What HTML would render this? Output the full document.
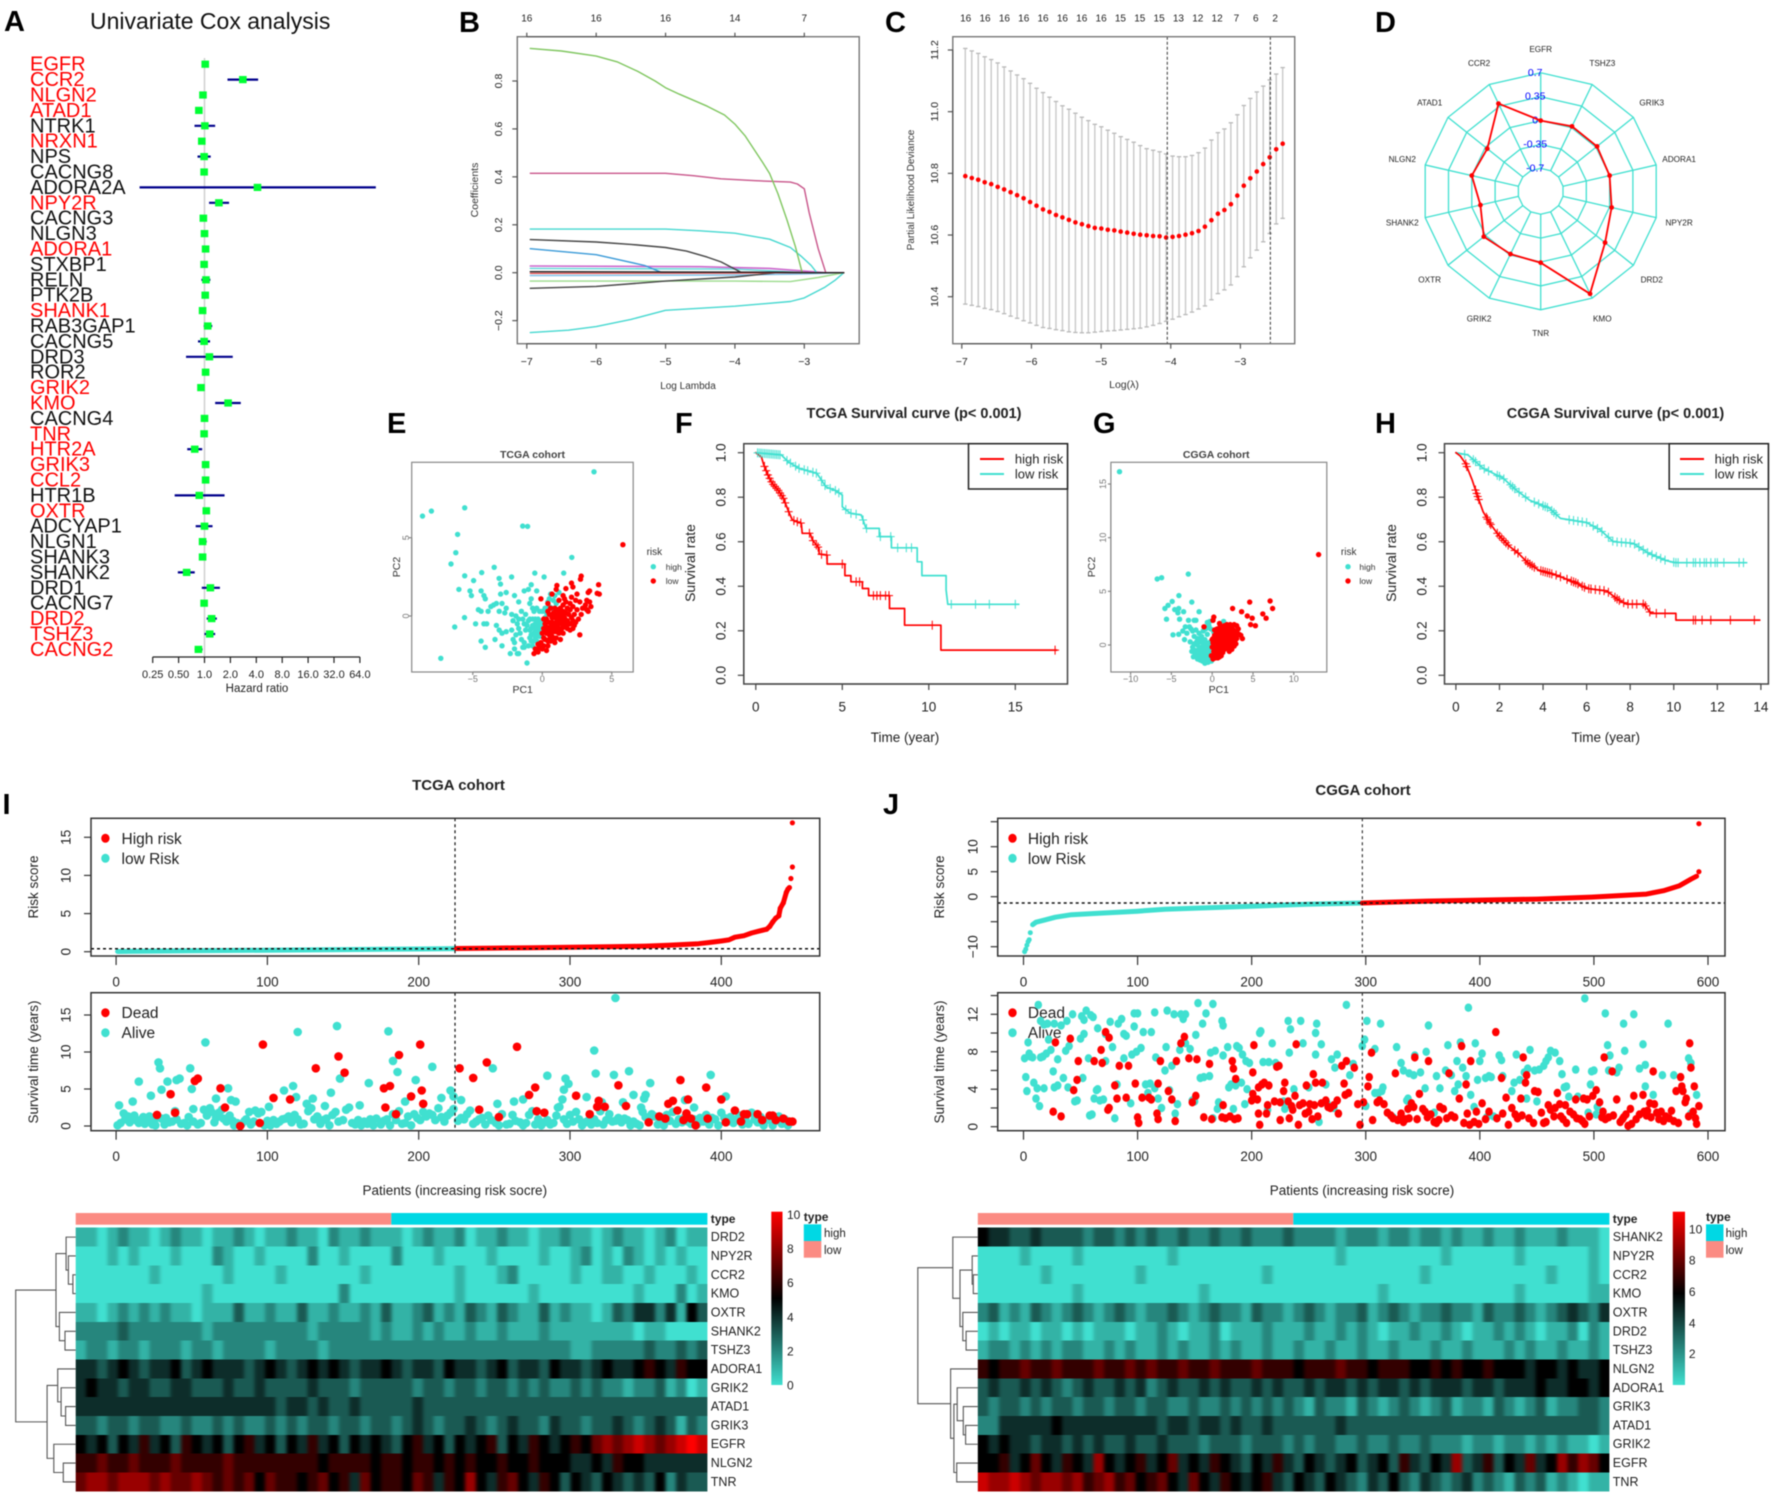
<!DOCTYPE html>
<html lang="en">
<head>
<meta charset="utf-8">
<title>Risk signature multi-panel figure</title>
<style>
html,body{margin:0;padding:0;background:#fff}
svg{display:block;font-family:"Liberation Sans",Arial,sans-serif;filter:blur(.45px)}
.plet{font-size:29px;font-weight:bold;fill:#000}
</style>
</head>
<body>
<svg id="figure" xmlns="http://www.w3.org/2000/svg" width="1772" height="1494" viewBox="0 0 1772 1494">
<defs>
<linearGradient id="heat-grad-i" x1="0" y1="1" x2="0" y2="0"><stop offset="0" stop-color="#40e0d0"/><stop offset="0.5" stop-color="#000"/><stop offset="1" stop-color="#f00"/></linearGradient>
<linearGradient id="heat-grad-j" x1="0" y1="1" x2="0" y2="0"><stop offset="0" stop-color="#40e0d0"/><stop offset="0.53" stop-color="#000"/><stop offset="1" stop-color="#f00"/></linearGradient>
<filter id="heat-soften" filterUnits="userSpaceOnUse" x="0" y="1200" width="1772" height="294" color-interpolation-filters="sRGB"><feGaussianBlur stdDeviation="1.8 0"/></filter>
<clipPath id="heat-clip-i"><rect x="75.7" y="1227" width="631.7" height="265"/></clipPath>
<clipPath id="heat-clip-j"><rect x="977.8" y="1227" width="631.6" height="265"/></clipPath>
</defs>
<rect x="0" y="0" width="1772" height="1494" fill="#fff"/>

<g>
<text class="plet" x="4" y="31">A</text>
<text class="plet" x="459" y="32">B</text>
<text class="plet" x="885" y="32">C</text>
<text class="plet" x="1375" y="32">D</text>
<text class="plet" x="387" y="433">E</text>
<text class="plet" x="675" y="433">F</text>
<text class="plet" x="1093" y="433">G</text>
<text class="plet" x="1375" y="433">H</text>
<text class="plet" x="2.5" y="814">I</text>
<text class="plet" x="883" y="814">J</text>
</g>

<g id="panel-a">
<text x="90" y="29" font-size="23" fill="#111">Univariate Cox analysis</text>
<text x="257" y="692" font-size="11.5" fill="#222" text-anchor="middle">Hazard ratio</text>
</g>

<g id="panel-b">
<text x="688" y="389" font-size="10" fill="#333" text-anchor="middle">Log Lambda</text>
<text transform="translate(478,190) rotate(-90)" font-size="10.5" fill="#333" text-anchor="middle">Coefficients</text>
</g>

<g id="panel-c">
<text x="1124" y="388" font-size="10.5" fill="#333" text-anchor="middle">Log(λ)</text>
<text transform="translate(914,190) rotate(-90)" font-size="10" fill="#333" text-anchor="middle">Partial Likelihood Deviance</text>
</g>

<g id="panel-d"></g>

<g id="panel-e">
<text x="532.5" y="458" font-size="10.5" font-weight="bold" fill="#444" text-anchor="middle">TCGA cohort</text>
<text x="522.7" y="693" font-size="10.5" fill="#333" text-anchor="middle">PC1</text>
<text transform="translate(400,567) rotate(-90)" font-size="10.5" fill="#333" text-anchor="middle">PC2</text>
<text x="646.6" y="555" font-size="10" fill="#333">risk</text>
<text x="665.8" y="570" font-size="8.5" fill="#333">high</text>
<text x="665.8" y="584" font-size="8.5" fill="#333">low</text>
</g>

<g id="panel-f">
<text x="914" y="418" font-size="14.5" font-weight="bold" fill="#222" text-anchor="middle">TCGA Survival curve (p&lt; 0.001)</text>
<text x="905" y="742" font-size="13.5" fill="#222" text-anchor="middle">Time (year)</text>
<text transform="translate(695,563) rotate(-90)" font-size="14" fill="#222" text-anchor="middle">Survival rate</text>
</g>

<g id="panel-g">
<text x="1216.2" y="458" font-size="10.5" font-weight="bold" fill="#444" text-anchor="middle">CGGA cohort</text>
<text x="1218.8" y="693" font-size="10.5" fill="#333" text-anchor="middle">PC1</text>
<text transform="translate(1095,567) rotate(-90)" font-size="10.5" fill="#333" text-anchor="middle">PC2</text>
<text x="1340.9" y="555" font-size="10" fill="#333">risk</text>
<text x="1359.4" y="570" font-size="8.5" fill="#333">high</text>
<text x="1359.4" y="584" font-size="8.5" fill="#333">low</text>
</g>

<g id="panel-h">
<text x="1615.5" y="418" font-size="14.5" font-weight="bold" fill="#222" text-anchor="middle">CGGA Survival curve (p&lt; 0.001)</text>
<text x="1605.8" y="742" font-size="13.5" fill="#222" text-anchor="middle">Time (year)</text>
<text transform="translate(1396,563) rotate(-90)" font-size="14" fill="#222" text-anchor="middle">Survival rate</text>
</g>

<g id="panel-i">
<text x="458.5" y="790" font-size="15" font-weight="bold" fill="#222" text-anchor="middle">TCGA cohort</text>
<text transform="translate(38,887) rotate(-90)" font-size="13.5" fill="#222" text-anchor="middle">Risk score</text>
<text transform="translate(38,1062) rotate(-90)" font-size="13.5" fill="#222" text-anchor="middle">Survival time (years)</text>
<text x="454.8" y="1195" font-size="13.5" fill="#222" text-anchor="middle">Patients (increasing risk socre)</text>
<text x="121.5" y="844" font-size="15.5" fill="#222">High risk</text>
<text x="121.5" y="864" font-size="15.5" fill="#222">low Risk</text>
<text x="121.5" y="1018" font-size="15.5" fill="#222">Dead</text>
<text x="121.5" y="1038" font-size="15.5" fill="#222">Alive</text>
</g>

<g id="panel-j">
<text x="1363" y="795" font-size="15" font-weight="bold" fill="#222" text-anchor="middle">CGGA cohort</text>
<text transform="translate(944,887) rotate(-90)" font-size="13.5" fill="#222" text-anchor="middle">Risk score</text>
<text transform="translate(944,1062) rotate(-90)" font-size="13.5" fill="#222" text-anchor="middle">Survival time (years)</text>
<text x="1362" y="1195" font-size="13.5" fill="#222" text-anchor="middle">Patients (increasing risk socre)</text>
<text x="1027.9" y="844" font-size="15.5" fill="#222">High risk</text>
<text x="1027.9" y="864" font-size="15.5" fill="#222">low Risk</text>
<text x="1027.9" y="1018" font-size="15.5" fill="#222">Dead</text>
<text x="1027.9" y="1038" font-size="15.5" fill="#222">Alive</text>
</g>

<g id="heat-i">
<text x="710.8" y="1223" font-size="12" font-weight="bold" fill="#222">type</text>
<text x="803.8" y="1221" font-size="12" font-weight="bold" fill="#222">type</text>
<text x="824" y="1237" font-size="11.5" fill="#222">high</text>
<text x="824" y="1254" font-size="11.5" fill="#222">low</text>
</g>

<g id="heat-j">
<text x="1612.8" y="1223" font-size="12" font-weight="bold" fill="#222">type</text>
<text x="1706" y="1221" font-size="12" font-weight="bold" fill="#222">type</text>
<text x="1725.6" y="1237" font-size="11.5" fill="#222">high</text>
<text x="1725.6" y="1254" font-size="11.5" fill="#222">low</text>
</g>
</svg>

<script>
/* ---------- Panel A data ---------- */
const forestGenes=["EGFR","CCR2","NLGN2","ATAD1","NTRK1","NRXN1","NPS","CACNG8","ADORA2A","NPY2R","CACNG3","NLGN3","ADORA1","STXBP1","RELN","PTK2B","SHANK1","RAB3GAP1","CACNG5","DRD3","ROR2","GRIK2","KMO","CACNG4","TNR","HTR2A","GRIK3","CCL2","HTR1B","OXTR","ADCYAP1","NLGN1","SHANK3","SHANK2","DRD1","CACNG7","DRD2","TSHZ3","CACNG2"];
const forestSignificant=[1,1,1,1,0,1,0,0,0,1,0,0,1,0,0,0,1,0,0,0,0,1,1,0,1,1,1,1,0,1,0,0,0,0,0,0,1,1,1];
const forestHR=[1.02,2.79,.96,.86,1.01,.93,.99,.99,4.13,1.47,.97,1,1.03,.99,1.04,1.02,.95,1.09,.99,1.14,1.03,.91,1.88,1,.99,.77,1.03,1.03,.87,1.05,1,.95,.95,.62,1.17,.99,1.21,1.15,.85];
const forestLow=[1,1.85,.94,.84,.765,.91,.83,.97,.176,1.13,.95,.98,1.01,.97,.92,1,.93,.98,.84,.61,1.01,.89,1.33,.98,.97,.63,1.01,1.01,.45,1.03,.79,.87,.93,.49,.93,.97,1.06,1,.77];
const forestHigh=[1.04,4.2,.98,.88,1.33,.95,1.18,1.01,98,1.93,.99,1.02,1.05,1.01,1.17,1.04,.97,1.23,1.16,2.13,1.05,.93,2.64,1.02,1.01,.94,1.05,1.05,1.71,1.07,1.24,1.06,.97,.77,1.51,1.01,1.39,1.33,.95];
const forestTickValues=[.25,.5,1,2,4,8,16,32,64];
const forestTickLabels=["0.25","0.50","1.0","2.0","4.0","8.0","16.0","32.0","64.0"];

/* ---------- Panel B data ---------- */
const lassoLambdaTicks=[-7,-6,-5,-4,-3];
const lassoCoefTicks=[-.2,0,.2,.4,.6,.8];
const lassoTopCounts=["16","16","16","14","7"];
const pathGreen=[[-6.95,.936],[-6.5,.925],[-6,.904],[-5.7,.88],[-5.4,.84],[-5.15,.8],[-5,.772],[-4.8,.745],[-4.6,.72],[-4.4,.695],[-4.15,.658],[-4,.62],[-3.85,.57],[-3.75,.526],[-3.6,.46],[-3.5,.414],[-3.38,.33],[-3.25,.22],[-3.13,.11],[-3.03,0],[-2.43,0]];
const pathPink=[[-6.95,.415],[-5,.415],[-4.6,.405],[-4.2,.392],[-3.7,.384],[-3.2,.378],[-3.1,.37],[-3,.35],[-2.93,.25],[-2.8,.1],[-2.69,0],[-2.43,0]];
const pathCyanUpper=[[-6.95,.182],[-5,.182],[-4.5,.175],[-4,.165],[-3.5,.14],[-3.2,.105],[-3.05,.07],[-2.9,.03],[-2.82,0],[-2.43,0]];
const pathBlackUpper=[[-6.95,.138],[-6,.128],[-5.5,.118],[-5,.105],[-4.7,.09],[-4.4,.065],[-4.2,.045],[-4,.015],[-3.9,0],[-2.43,0]];
const pathBlue=[[-6.95,.1],[-6,.075],[-5.3,.03],[-5.05,0],[-2.43,0]];
const pathMagenta=[[-6.95,.028],[-4.5,.025],[-3.5,.018],[-2.7,0],[-2.43,0]];
const pathCyanSmall=[[-6.95,.018],[-4,.015],[-3.5,.008],[-3,0],[-2.43,0]];
const pathLightBlue=[[-6.95,-.012],[-4,-.01],[-3,-.005],[-2.43,0]];
const pathGreenLower=[[-6.95,-.035],[-4,-.035],[-3.2,-.037],[-2.8,-.02],[-2.43,0]];
const pathBlackLower=[[-6.95,-.065],[-6,-.057],[-5,-.035],[-4,-.018],[-3.4,0],[-2.43,0]];
const pathCyanLower=[[-6.95,-.25],[-6.4,-.24],[-6,-.225],[-5.5,-.195],[-5,-.157],[-4,-.14],[-3.2,-.12],[-3,-.105],[-2.7,-.06],[-2.55,-.03],[-2.43,0]];
const pathBlackZero=[[-6.95,.004],[-3.3,.002],[-2.9,0],[-2.43,0]];
const pathRedZero=[[-6.95,-.003],[-4,-.002],[-3.4,0],[-2.43,0]];

/* ---------- Panel C data ---------- */
const devLambda=[-6.95,-6.857,-6.764,-6.671,-6.578,-6.485,-6.392,-6.299,-6.206,-6.113,-6.02,-5.927,-5.834,-5.741,-5.648,-5.555,-5.462,-5.369,-5.276,-5.183,-5.09,-4.997,-4.904,-4.811,-4.718,-4.625,-4.532,-4.439,-4.346,-4.253,-4.16,-4.067,-3.974,-3.881,-3.788,-3.695,-3.602,-3.509,-3.416,-3.323,-3.23,-3.137,-3.044,-2.951,-2.858,-2.765,-2.672,-2.579,-2.486,-2.393];
const devMean=[10.791,10.785,10.779,10.771,10.765,10.756,10.748,10.739,10.729,10.719,10.707,10.695,10.683,10.675,10.665,10.657,10.649,10.641,10.635,10.629,10.623,10.621,10.617,10.615,10.611,10.608,10.604,10.601,10.599,10.597,10.596,10.592,10.594,10.597,10.601,10.606,10.613,10.627,10.648,10.669,10.681,10.7,10.728,10.76,10.784,10.806,10.83,10.852,10.878,10.896];
const devUpper=[11.205,11.197,11.189,11.178,11.169,11.158,11.145,11.132,11.119,11.107,11.092,11.076,11.062,11.047,11.033,11.019,11.008,10.995,10.982,10.971,10.959,10.951,10.94,10.93,10.919,10.91,10.901,10.89,10.88,10.875,10.87,10.863,10.856,10.854,10.854,10.858,10.867,10.882,10.908,10.932,10.944,10.964,10.99,11.02,11.043,11.064,11.083,11.103,11.122,11.143];
const devLower=[10.376,10.372,10.368,10.362,10.358,10.352,10.345,10.337,10.33,10.322,10.315,10.307,10.3,10.297,10.293,10.29,10.286,10.284,10.283,10.283,10.285,10.287,10.289,10.29,10.292,10.294,10.296,10.298,10.302,10.307,10.313,10.32,10.327,10.335,10.342,10.35,10.36,10.37,10.39,10.41,10.422,10.438,10.465,10.497,10.526,10.551,10.578,10.605,10.636,10.654];
const devTickX=[-7,-6,-5,-4,-3];
const devTickY=[10.4,10.6,10.8,11,11.2];
const devTickYLabels=["10.4","10.6","10.8","11.0","11.2"];
const devTopCounts=["16","16","16","16","16","16","16","16","15","15","15","13","12","12","7","6","2"];
const devRefLines=[-4.05,-2.57];

/* ---------- Panel D data ---------- */
const radarGenes=["EGFR","TSHZ3","GRIK3","ADORA1","NPY2R","DRD2","KMO","TNR","GRIK2","OXTR","SHANK2","NLGN2","ATAD1","CCR2"];
const radarValues=[0,.02,.02,0,.03,.17,.63,.01,-.015,.03,-.13,0,-.035,.39];
const radarRings=[-.7,-.35,0,.35,.7];
const radarRingLabels=["-0.7","-0.35","0","0.35","0.7"];

/* ---------- Panel E data ---------- */
const ePcaHighRisk=[[3.72,9.21],[-8.62,6.38],[-7.98,6.7],[-5.58,6.91],[-1.41,5.74],[-1.06,5.72],[-6.09,5.21],[-6.22,4.04],[-6.57,3.32],[-3.46,3.11],[2.12,3.74],[-5.58,2.57],[-4.36,2.77],[-4.94,2.26],[-3.11,2.4],[-3.01,2.04],[-2.21,2.49],[-.54,2.74],[.13,2.49],[1.54,2.74],[-6,1.7],[-5.2,1.6],[-5.1,1.3],[-4.4,1.6],[-4.2,1.3],[-4.1,1.1],[-3,1.4],[-2.6,1.5],[-1.3,1.6],[-1,1.7],[-.8,2],[-.4,1.6],[-3.7,.6],[-3.5,.7],[-3.3,.8],[-2.9,.8],[-2.6,.5],[-4.6,.4],[-4.4,.3],[-3.9,.3],[-3.1,.3],[-2.7,.2],[-2.2,.1],[-1.9,0],[-1.7,-.2],[-5.6,-.1],[-6.3,-.7],[-4.8,-.5],[-4.2,-.5],[-4,-.5],[-3.3,-.6],[-3.1,-.9],[-2.9,-1.1],[-2.6,-1],[-4.4,-1.6],[-4.1,-2],[-3.4,-1.5],[-2.9,-1.9],[-2.1,-1.5],[-2,-1.7],[-2,-2.1],[-2.3,-2.4],[-1.8,-2.4],[-1.7,-2.4],[-1.3,-1.7],[-1.4,-2],[-1.3,-2],[-1,-1.9],[-1.1,-3],[-7.3,-2.7],[-1.7,-.8],[-1.6,-1.1],[-1.3,-.5],[-1.2,-.9],[-1.1,-.6],[-1,-.3],[-.9,-.9],[-.8,-1.2],[-.7,-.2],[-.6,-.7],[-.6,-1.1],[-.5,-1.4],[-.5,-.2],[-.4,-.8],[-.4,-1.2],[-.4,-1.6],[-.3,-.5],[-.3,-1],[-.2,-.6],[-.2,-1.3],[-.1,-.9],[0,-.7],[.1,-.4],[-.6,-1.6],[-.7,-1.9],[-.8,-1.6],[-.9,-.2],[-.6,.3],[-.7,.5],[-.4,.5],[-.2,.3],[0,.3],[.2,.5],[.3,.2],[.5,.6],[.4,.9],[.5,1.1],[.7,.5],[.8,1],[.9,1.3],[1,.8],[1.2,1.5],[.6,1.4],[.2,-.1],[-1.5,.3],[-1.2,.1],[-.9,.8],[-.8,1.1],[-1.7,.9],[-2,1.3],[-1.4,-.2],[-1.8,-.5],[-2.1,-.3],[-2.2,-.9],[-1.9,-1.2],[-1.5,-1.5],[-.9,-1.4],[-.5,-.5],[-.3,-.2],[-.1,-.4],[-.2,-1],[-.5,-1],[-.7,-.6],[-.8,-.8]];
const ePcaLowRisk=[[5.8,4.55],[1.05,1.95],[1,1.7],[1.7,1.75],[2.1,2.1],[2.2,1.85],[2.8,2.55],[2.75,2.35],[4.05,2],[3.95,1.45],[4.1,1.4],[3.4,1.6],[3.3,1.5],[.7,1.4],[1.2,1],[.4,.8],[-.1,1.1],[2.5,1.4],[3.2,1],[3.1,.7],[3.4,.9],[3.5,.6],[3.2,.4],[2.9,.5],[2.7,.9],[3.3,.3],[2.4,1],[2,.8],[1.5,1.3],[1.7,.9],[2.2,.6],[2.5,.4],[2.8,.1],[2.6,-.2],[2.3,.1],[2,.4],[1.8,.5],[1.5,.7],[1.3,.5],[1,.4],[.8,.2],[.5,.1],[.3,-.2],[.2,-.5],[.1,-.8],[0,-1.1],[.1,-1.4],[-.1,-1.7],[.1,-1.9],[-.2,-2],[-.3,-1.8],[-.5,-2.1],[-.6,-2.4],[0,-2.1],[.4,-1.6],[.5,-1.2],[.4,-.9],[.6,-.7],[.7,-.4],[.9,-.1],[1.1,.1],[1.3,.2],[1.5,.3],[1.7,.2],[1.9,.1],[2.1,-.1],[2.2,-.3],[2.4,-.4],[2,-.5],[1.8,-.3],[1.6,-.1],[1.4,-.3],[1.2,-.2],[1,-.4],[.8,-.6],[.6,-1],[.7,-1.3],[.9,-1.7],[1,-1.4],[1.2,-1.1],[1.4,-.8],[1.6,-.7],[1.8,-.8],[2,-.9],[2.7,-1.2],[2.2,-.8],[1.5,-1.1],[1.3,-1.5],[.3,-1.1],[.4,-1.9],[.2,-1.5],[.6,-1.6],[.8,-1],[1,-.8],[1.2,-.5],[1.4,-.5],[1.6,-.4],[1.9,-.5],[.5,-.4],[.7,-.1],[.9,.1],[1.1,-.1],[.3,-.7],[.5,-.8],[.2,-1],[.1,-.2],[.4,.3],[.6,.5],[1.6,1.1],[2.1,1.2],[1,-1],[1.1,-.7],[1.3,-.9],[.9,-.5],[.7,-.8],[.5,-1.5],[.8,-1.4],[1.5,-.2],[1.7,-.5],[2.3,-.6],[1.3,0],[1.5,.1],[.9,.5],[1.1,.4],[-.3,-2.3],[.3,-2.2]];
const ePcaTicksX=[-5,0,5];
const ePcaTicksY=[0,5];

/* ---------- Panel F data ---------- */
const fHighCurve=[[0,1],[.33,.98],[.44,.95],[.7,.9],[.95,.862],[1.29,.832],[1.6,.795],[1.86,.742],[2.11,.698],[2.63,.683],[2.68,.638],[3.14,.638],[3.27,.608],[3.66,.57],[3.66,.545],[4.12,.54],[4.12,.5],[5.15,.5],[5.15,.448],[5.5,.448],[5.5,.42],[6.16,.42],[6.16,.39],[6.52,.39],[6.52,.358],[7.73,.358],[7.73,.3],[8.6,.3],[8.6,.225],[10.7,.225],[10.7,.113],[17.4,.113]];
const fLowCurve=[[0,1],[1.47,.99],[1.86,.96],[2.5,.93],[3.53,.907],[4.05,.847],[4.6,.83],[5,.81],[5,.757],[5.46,.728],[6.1,.72],[6.37,.66],[7.14,.66],[7.14,.623],[7.84,.623],[7.84,.573],[9.33,.573],[9.33,.51],[9.6,.51],[9.6,.448],[11,.448],[11,.383],[11.1,.319],[15.2,.319]];
const fHighCensor=[.5,.6,.7,.8,.9,1,1.1,1.2,1.3,1.4,1.5,1.6,1.7,1.9,2.2,2.4,2.6,3.1,3.3,3.5,3.6,3.8,4.1,5,5.8,6,6.8,7,7.2,7.5,7.7,10.2,17.3];
const fLowCensor=[.1,.2,.3,.4,.5,.6,.7,.8,.9,1,1.1,1.2,1.3,1.4,1.8,2,2.3,2.5,2.8,3,3.3,3.5,3.8,4,4.3,4.6,4.8,5.2,5.5,5.8,6.2,6.4,7.2,7.8,8.2,8.7,9,11.3,12.7,13.5,15];
const fTicksX=[0,5,10,15];
const survTicksY=[0,.2,.4,.6,.8,1];
const survTickYLabels=["0.0","0.2","0.4","0.6","0.8","1.0"];

/* ---------- Panel G data ---------- */
const gPcaHighRisk=[[-11.36,16.15],[-6.74,6.15],[-6.2,6.27],[-2.93,6.61],[-4.08,4.6],[-4.9,4.05],[-5.4,3.7],[-5.8,3.4],[-4.1,3.4],[-4.2,3],[-4.6,3.3],[-3.5,3.1],[-2.5,4],[-1.6,3.1],[-5.6,2.4],[-4,2.4],[-2.9,2.3],[-2.2,2.3],[-.6,2.1],[-.3,2.2],[1.4,2.2],[-4.8,.95],[-4.1,1],[-3.6,1.3],[-3.4,.5],[-3.3,1.7],[-3.1,1.1],[-2.8,1.7],[-2.6,1.5],[-2.4,1.3],[-2.2,.8],[-2,1.4],[-1.8,.6],[-1.6,1.1],[-1.4,.3],[-1.3,.8],[-1.1,1.3],[-.9,.5],[-.8,1.5],[-.6,1],[-2.7,.3],[-2.4,-.2],[-2.2,.1],[-2,-.5],[-1.9,-.9],[-1.8,0],[-1.7,-1.2],[-1.6,-.4],[-1.5,-.8],[-1.4,-1.3],[-1.3,-.2],[-1.2,-.6],[-1.1,-1.1],[-1,-1.5],[-.9,-.3],[-.9,-.9],[-.8,-1.3],[-.7,-.1],[-.7,-.7],[-.6,-1.1],[-.6,-1.6],[-.5,.2],[-.5,-.4],[-.4,-.9],[-.4,-1.3],[-.3,-.2],[-.3,-.7],[-.2,-1.1],[-.2,.3],[-.1,-.5],[-.1,-.9],[0,-1.3],[-.1,-1.5],[-.8,.1],[-1.1,-.4],[-1.3,-.9],[-1.5,-1.4],[-1.8,-1.3],[-2.3,-1.1],[-2.5,-.6],[-1.9,.3],[-1.6,.5],[-1.3,.5],[-1,.2],[-1.2,-1.5],[-.7,-1.5],[-.5,-1.6],[-.9,-1.7],[-1.6,-.9],[-2.1,-.8],[.2,1.2],[.6,1.3],[.9,1.6],[-.2,1.5],[-.4,1.8],[-2,2.3]];
const gPcaLowRisk=[[13.04,8.42],[4.6,4],[7.1,4.1],[6.2,2.9],[7.4,3.4],[6.6,2.5],[3.6,3.1],[2.5,3.4],[.2,2.6],[.1,2.3],[-1,1.7],[.9,2],[4.3,2.7],[4.9,2.5],[4.7,1.9],[5.3,1.8],[2.2,1.9],[2.7,1.9],[3,1.8],[3.2,1.5],[3,1.2],[3.3,1],[3.5,.9],[3.7,.6],[2.8,.9],[2.6,1.4],[2.4,1.7],[2.1,1.5],[1.8,1.9],[1.5,1.8],[1.2,1.6],[1,1.3],[.8,1.4],[.5,1.1],[.3,.9],[.1,.6],[.1,.2],[.2,-.2],[.2,-.6],[.3,-1],[.1,-1.3],[.4,-1.2],[.5,-.8],[.6,-.4],[.7,0],[.8,.4],[.9,.8],[1.1,1],[1.3,1.2],[1.5,1.3],[1.7,1.5],[1.9,1.2],[2.2,1.1],[2.4,.8],[2.6,.7],[2.8,.4],[2.9,.1],[2.7,-.1],[2.5,.2],[2.3,.4],[2.1,.6],[1.9,.7],[1.7,.9],[1.5,.8],[1.3,.6],[1.1,.4],[.9,.1],[.7,-.4],[.6,-.8],[.5,-1.1],[.8,-.9],[1,-.6],[1.2,-.2],[1.4,.1],[1.6,.3],[1.8,.2],[2,0],[2.2,-.2],[2.4,-.4],[2.1,-.6],[1.9,-.3],[1.7,-.1],[1.5,-.4],[1.3,-.7],[1.1,-1],[.9,-1.1],[.7,-1.2],[.4,-.5],[.3,-.2],[.4,.3],[.6,.6],[.8,.9],[1,.7],[1.2,.9],[1.4,.5],[1.6,.7],[1.8,.6],[2,.3],[2.2,.2],[.2,.4],[.3,1.4],[.6,1.5],[1,1.8],[1.4,1.6],[1.8,1.4],[2.3,1.3],[2.6,1],[3,.6],[-.1,-1],[0,-.2],[0,.5]];
const gPcaTicksX=[-10,-5,0,5,10];
const gPcaTicksY=[0,5,10,15];

/* ---------- Panel H data ---------- */
const hHighCurve=[[0,1],[.2,.985],[.45,.95],[.75,.877],[.95,.817],[1.25,.735],[1.56,.683],[1.96,.63],[2.47,.578],[2.87,.548],[3.28,.507],[3.79,.473],[4.6,.45],[5.5,.416],[6.01,.39],[6.92,.379],[7.47,.338],[7.83,.32],[8.64,.32],[8.95,.278],[10.1,.278],[10.1,.248],[13.95,.248]];
const hLowCurve=[[0,1],[.55,.99],[1.25,.93],[2.17,.885],[2.77,.832],[3.38,.787],[4.29,.75],[4.8,.705],[6.01,.686],[6.62,.653],[7.23,.6],[8.14,.593],[8.85,.548],[9.66,.515],[10.1,.506],[13.34,.506]];
const hHighCensor=[.45,.5,.9,.95,1,1.05,1.4,1.45,1.55,1.6,1.9,2,2.1,2.2,2.3,2.4,2.7,2.85,3.2,3.3,3.4,3.5,3.6,3.9,4,4.1,4.2,4.3,4.4,4.6,4.8,5.1,5.3,5.4,5.5,5.6,5.8,5.9,6.1,6.2,6.4,6.6,6.8,7,7.3,7.4,7.5,7.7,7.9,8.1,8.3,8.6,8.7,8.9,9.2,9.6,10.9,11,11.3,11.7,12.6,13.7];
const hLowCensor=[.4,.8,.9,1.1,1.3,1.5,1.9,2,2.2,2.5,2.6,2.7,2.9,3.2,3.6,3.8,4,4.1,4.2,4.4,4.5,4.6,5.2,5.4,5.6,5.8,6,6.3,6.5,6.7,7,7.2,7.4,7.6,7.8,8,8.2,8.4,8.6,8.8,9,9.2,9.4,9.6,10,10.1,10.2,10.6,10.9,11,11.2,11.4,11.5,11.7,11.9,12,12.3,13,13.2];
const hTicksX=[0,2,4,6,8,10,12,14];

/* ---------- Panel I data ---------- */
const iRiskLow=[[1,.03],[50,.12],[100,.2],[150,.28],[200,.36],[224,.4]];
const iRiskHigh=[[225,.42],[250,.47],[275,.52],[300,.58],[325,.64],[350,.74],[365,.85],[375,.95],[385,1.05],[392,1.2],[400,1.4],[405,1.55],[409,1.9],[415,2.1],[420,2.45],[425,2.7],[430,2.95],[432,3.3],[434,3.9],[436,4.4],[438,4.7],[439,5.7],[441,6.4],[443,7.8],[444,8.2],[445,8.4]];
const iRiskOutliers=[[446,9.6],[447,11.1],[447,16.9]];
const iMedianIndex=224;
const iMedianScore=.38;
const iDead=[[27,1.5],[36,4.3],[39,1.8],[52,6.1],[54,6.4],[69,5.1],[72,2.5],[82,0],[95,.4],[97,11],[104,3.8],[115,3.6],[132,7.8],[147,9.4],[151,7.2],[177,5.1],[178,2.5],[181,5.4],[185,1.6],[187,9.6],[195,4],[201,11],[202,4.8],[203,3],[227,7.8],[236,6.5],[240,2.2],[245,8.6],[253,1.2],[265,10.7],[273,4.2],[277,5.2],[278,2],[283,1.8],[304,4.1],[313,1.6],[318,2.6],[319,3.4],[323,2.6],[332,5.5],[337,2.7],[352,.5],[359,1.3],[363,1],[365,3],[368,3.4],[371,2.1],[373,6.2],[375,.8],[378,3.6],[377,1.7],[380,1],[383,.1],[390,5.2],[391,1],[400,3.6],[403,.5],[409,2.1],[413,.6],[415,1.6],[417,1.6],[424,1.6],[427,.8],[432,1.4],[434,1.4],[436,.8],[441,1],[445,.6],[447,.6]];
const iAliveUpper=[[2,2.8],[11,3.3],[15,6],[23,4.1],[28,8.6],[29,7.8],[30,4.9],[34,6],[40,6.2],[42,6.4],[49,7.8],[50,5],[51,2.3],[59,11.3],[66,3.7],[74,5.1],[76,3.5],[79,3.3],[101,2.6],[111,4.8],[117,5.4],[119,3.9],[120,12.7],[130,3.7],[126,3],[138,2.7],[142,4.5],[146,13.5],[148,6.4],[161,2.8],[167,5.8],[180,12.8],[183,8.8],[186,7.3],[191,3.3],[198,6.2],[209,8],[215,3.8],[221,4.8],[223,4],[228,3.5],[249,7.8],[252,3],[263,3.3],[269,3.6],[285,6.8],[297,6.4],[296,4.9],[299,5.7],[295,3.6],[292,2.5],[311,3.9],[316,10.2],[317,7.1],[329,6.9],[330,17.3],[321,3.2],[335,3.2],[339,7.4],[342,4.2],[350,4.2],[349,3.7],[353,5.8],[347,2.5],[382,2.5],[376,3.5],[393,6.9],[403,4]];
const iAliveCarpet=[[1,.1],[3,.4],[5,1.7],[6,.9],[8,1.3],[9,.5],[10,1.1],[12,1.4],[13,.8],[15,.4],[17,.9],[18,1.2],[19,.3],[21,.7],[22,1.3],[24,.2],[25,.6],[26,.1],[30,1],[32,.2],[33,1.1],[35,.5],[37,.6],[39,2],[40,.9],[43,.3],[45,.4],[47,.1],[48,1.2],[51,.6],[54,.2],[56,.4],[58,2.2],[60,1.4],[62,2.4],[63,1.9],[65,.5],[66,1.1],[68,1.8],[70,2.2],[71,1],[73,.6],[75,1.4],[77,.7],[78,.1],[80,.4],[83,.3],[85,.7],[86,.9],[88,1.9],[89,.2],[91,.6],[92,2.1],[94,1.7],[96,1.9],[98,.1],[100,.7],[102,.1],[104,.8],[106,.3],[108,.6],[110,.9],[112,1],[114,1.3],[116,.5],[118,1.5],[120,.9],[122,.2],[124,.3],[127,2],[129,2.4],[131,.9],[133,1.3],[135,.3],[137,.8],[139,1],[141,.1],[143,1.5],[145,1.9],[147,.6],[150,.8],[152,2.2],[154,2.5],[156,.4],[158,.2],[160,.8],[162,.1],[164,.6],[166,.3],[168,.9],[170,.1],[172,1],[175,.2],[177,.7],[179,.9],[181,.1],[183,1.6],[185,.8],[187,2],[189,.3],[191,.4],[193,1.3],[195,.1],[197,1.6],[199,1.1],[201,.8],[203,1.9],[205,1.3],[207,1.7],[209,1.5],[211,.8],[213,2.4],[215,1.2],[217,.6],[219,1.4],[221,1.8],[223,2.3],[226,.7],[228,1.1],[230,.9],[232,1.6],[234,2.1],[236,.3],[238,.6],[240,.9],[242,1.1],[244,.2],[246,1.4],[248,.8],[251,.4],[253,.1],[255,1.6],[258,.2],[260,.3],[262,1.5],[264,.7],[267,.5],[269,.1],[271,.4],[273,1.5],[275,2],[277,.2],[279,.9],[281,.1],[283,.5],[285,.8],[287,.2],[289,.4],[291,1.4],[293,2.6],[296,.9],[298,.3],[300,1.5],[302,.6],[304,1.9],[306,.9],[308,.1],[310,.5],[312,.7],[314,.2],[316,.9],[318,.4],[320,2],[322,.2],[324,.8],[326,1.6],[328,.6],[330,.7],[332,1.1],[334,.5],[336,1],[338,.8],[340,.1],[342,.6],[344,.3],[346,.1],[348,1.9],[350,1.2],[352,.9],[354,1.6],[356,1.3],[358,.2],[360,.7],[362,.1],[364,1.5],[366,.7],[368,1.9],[370,.3],[372,.9],[374,.5],[376,1.2],[378,.6],[380,.3],[382,.9],[384,.2],[386,1.1],[388,.6],[390,1.5],[392,.2],[394,1.1],[396,.9],[398,.1],[400,1.8],[402,1.1],[404,.6],[406,1.2],[408,.4],[410,.9],[412,1.4],[414,.2],[416,.9],[418,.3],[420,1.8],[422,.9],[424,.5],[426,1.2],[428,.1],[430,.8],[432,1.2],[434,.1],[436,.7],[438,1.3],[440,.3],[442,.9],[444,.1]];
const iTicksX=[0,100,200,300,400];
const iTicksYRisk=[0,5,10,15];
const iTicksYTime=[0,5,10,15];

/* ---------- Panel J data ---------- */
const jRiskStart=[[1,-11],[2,-10.5],[3,-9.7],[4,-9],[5,-8.6],[6,-7.2]];
const jRiskLow=[[8,-5.6],[11,-5.1],[18,-4.7],[28,-4.1],[42,-3.6],[66,-3.3],[100,-2.9],[124,-2.5],[162,-2.2],[200,-1.9],[249,-1.5],[297,-1.25]];
const jRiskHigh=[[297,-1.25],[354,-.87],[450,-.47],[498,-.07],[546,.53],[561,1.2],[575,2.2],[585,3.5],[590,4.1]];
const jRiskOutliers=[[592,5],[592,14.6]];
const jMedianIndex=297;
const jMedianScore=-1.25;
const jAlive=[[1,7.3],[2,5.3],[3,3.8],[4,9],[5,7.8],[6,7.5],[8,7.4],[9,4.7],[11,3],[12,4.1],[14,2.2],[13,13],[15,7.4],[15,11.3],[17,7.5],[18,4.1],[18,10.9],[20,7.8],[21,11],[22,9.3],[24,8.2],[26,5.9],[27,11],[27,4.2],[30,7.2],[30,4.4],[33,10.8],[35,5.2],[37,8.1],[38,11.3],[39,4.2],[40,8.6],[43,12],[45,2.7],[47,2.8],[50,9.4],[51,11.8],[52,5.2],[53,11.4],[53,9.9],[55,12.4],[57,7.3],[58,1.2],[60,1.3],[59,11.9],[61,11.7],[62,3],[64,3.9],[65,4],[65,10.5],[67,2.8],[70,2.9],[72,7],[72,9.9],[76,11.2],[78,8.5],[80,.9],[82,4.5],[83,11],[86,11.5],[88,7.3],[88,9.9],[90,9.7],[94,2.5],[95,7.7],[97,10.7],[97,12.1],[99,8],[100,12.1],[103,8.4],[105,10.1],[107,4.5],[109,3.6],[111,4.6],[112,10.1],[115,4.1],[115,12.2],[116,7.4],[118,3],[121,2],[124,6],[125,8.5],[126,12.4],[128,3.9],[130,6.5],[132,12],[133,1.4],[135,2.4],[137,8.2],[138,12],[140,11.5],[142,12],[142,8.9],[146,8.3],[148,2.8],[150,2.7],[151,9.8],[153,13.2],[155,5.2],[157,11],[158,5.3],[160,12.1],[163,5.4],[164,7.9],[166,.9],[166,13.1],[168,8.1],[170,1.9],[171,2.6],[174,11.3],[175,10.8],[175,7.6],[179,8.5],[180,4.2],[182,4.5],[184,1.9],[186,4.4],[187,8.6],[189,8.4],[191,4.7],[192,7.7],[194,2.4],[195,7],[196,4],[198,6.8],[210,6.9],[207,10],[208,10.2],[214,1.8],[215,6.9],[218,8.9],[221,6.8],[228,2.7],[229,1.9],[232,11.3],[233,7.9],[234,10.4],[237,4],[243,11.3],[245,8.9],[250,4.2],[256,7.7],[256,10],[257,11],[259,.5],[261,8.8],[265,4.5],[266,2.5],[272,2],[270,7.2],[273,6.3],[275,7.7],[283,13],[286,5.5],[289,6.7],[297,8.6],[299,9.3],[300,2.2],[301,11.3],[308,8.3],[308,3.6],[311,3.6],[313,11],[315,4.2],[314,3.8],[324,1],[327,8.5],[331,6.8],[333,6],[336,2.8],[338,5.7],[342,5.5],[337,3],[343,7.6],[348,5.8],[352,4.1],[353,8],[355,10.8],[360,1.5],[362,5.4],[365,4.1],[370,6],[372,8.7],[375,5.5],[378,3.8],[380,7],[381,4.5],[383,9],[385,6.3],[388,5.4],[390,12.7],[392,3.4],[395,2.1],[396,8.9],[398,5],[400,7],[402,7.8],[405,5.2],[406,1],[408,5.4],[410,5.3],[412,1.1],[417,7.6],[419,7.1],[420,5.4],[428,3.8],[430,4.7],[432,7.7],[435,5],[439,5.8],[441,3],[442,6.2],[444,8.2],[448,6],[450,2.7],[452,6.1],[456,6.5],[458,7],[460,7.4],[462,8.1],[466,7.9],[470,7],[472,5.6],[474,4.2],[476,4.3],[478,3.2],[486,3.2],[484,6.1],[492,13.7],[495,1.5],[498,5.9],[497,4.5],[500,6],[502,1.3],[503,2.1],[510,12.1],[512,8.7],[513,6],[514,7.6],[520,5.8],[522,6.3],[527,8.1],[526,11],[535,12],[540,6.2],[543,8.8],[545,6.6],[545,4.3],[552,3.4],[556,1.4],[560,5.5],[565,11],[570,5.5],[583,7.3],[585,6.8],[585,1.4],[590,3.4]];
const jDead=[[26,1.6],[28,9],[33,1.1],[41,9.4],[44,3.9],[47,5],[48,7],[62,7],[68,8.2],[69,6.8],[72,10.1],[74,1.8],[75,2],[75,9.5],[80,4.4],[82,3],[84,6.5],[90,3.1],[92,6.5],[98,4.6],[100,1],[101,.4],[104,3.1],[110,3.1],[112,2.9],[117,1.4],[118,.8],[118,4.6],[120,7],[127,3.8],[130,2.9],[133,.6],[134,7],[138,8.9],[141,9.6],[145,7.3],[148,2.6],[151,3.3],[152,7.2],[158,1],[163,6.7],[165,.8],[175,2.3],[174,1],[177,.9],[181,1.1],[183,7],[185,.8],[184,6.2],[188,.9],[186,5.1],[200,2.8],[201,3.5],[201,5.8],[202,8.7],[205,2.9],[206,4.2],[206,1.4],[207,.2],[209,4.5],[211,4.7],[213,1.4],[214,2.3],[215,4.4],[220,2.7],[222,6.4],[224,6.5],[225,2.6],[225,.7],[228,3.8],[229,4.7],[232,2.7],[233,.9],[235,2.2],[236,1.8],[238,3.3],[239,8.8],[241,.2],[242,2.3],[245,2.5],[247,1.4],[248,4.4],[250,1.6],[251,2.4],[253,.8],[254,5.6],[255,2.3],[256,4.7],[258,1.1],[262,4.7],[261,2.5],[265,2.8],[267,2.1],[269,2],[272,2.3],[275,2.8],[276,1.4],[279,6.5],[281,4.6],[282,3.4],[283,7],[285,3.6],[290,6.3],[293,2.4],[295,.2],[298,2.6],[302,4.3],[303,5.3],[306,.7],[305,7.9],[310,2.6],[312,2.8],[316,2.4],[319,1.5],[322,1.2],[324,.9],[326,5.7],[328,.7],[330,.9],[331,1.4],[333,.5],[335,.8],[337,1.9],[338,.9],[340,2.5],[342,2.1],[343,7.4],[345,.8],[347,3.5],[350,1.9],[352,1.6],[354,1],[355,7],[357,1.3],[360,.5],[362,.4],[364,.7],[365,2.1],[368,1.9],[371,.9],[373,5.7],[375,1.2],[378,1],[382,3],[384,8.6],[386,.4],[388,4.5],[389,1.4],[391,.2],[392,7],[395,.5],[397,1.6],[399,.3],[402,2.5],[405,.8],[408,1.6],[414,10.1],[415,.9],[419,5.2],[420,1.4],[423,3.1],[425,.2],[428,2],[431,1.3],[433,.9],[436,3],[437,1.2],[438,7.4],[440,4.7],[441,5.5],[443,.9],[447,.4],[448,3.8],[451,3.7],[454,1.5],[456,.4],[458,.5],[460,2.3],[462,1.8],[465,1.1],[466,2],[468,3.6],[470,2.4],[471,1.1],[473,.8],[475,2.3],[476,.4],[479,1.6],[482,1.3],[484,2.9],[485,.9],[488,.8],[490,.6],[491,3],[492,.3],[494,2.9],[496,1.1],[499,3.3],[502,3.9],[505,2.6],[507,1],[508,1.6],[509,7.4],[510,.8],[513,1],[516,5.9],[517,1.2],[520,2.9],[523,.5],[525,.8],[526,1],[528,1.3],[530,.1],[532,1.9],[533,.3],[535,3.3],[537,.8],[540,1.3],[543,3.4],[544,1.6],[546,1.2],[547,1.7],[549,2.5],[550,1],[552,5.9],[553,2.4],[555,1.5],[557,.8],[559,1.6],[561,.6],[563,1.1],[566,.9],[568,1.7],[570,.6],[572,3.8],[574,.4],[576,5.3],[577,4.3],[578,3.8],[580,2.6],[581,3],[583,1.1],[584,8.9],[585,6.3],[587,1.6],[588,4.3],[589,.9],[590,.3],[592,2.2]];
const jTicksX=[0,100,200,300,400,500,600];
const jTicksYRisk=[-10,-5,0,5,10,15];
const jTickLabelsRisk=["−10","","0","5","10",""];
const jTicksYTime=[0,2,4,6,8,10,12,14];
const jTickLabelsTime=["0","","4","","8","","12",""];

/* ---------- Heatmap data ---------- */
const heatGenesI=["DRD2","NPY2R","CCR2","KMO","OXTR","SHANK2","TSHZ3","ADORA1","GRIK2","ATAD1","GRIK3","EGFR","NLGN2","TNR"];
const heatRowsI=[
[1,1,0,1,2,1,1,0,1,2,1,1,0,1,1,2,1,0,1,1,2,1,1,0,2,1,1,2,1,1,1,0,1,2,1,1,2,0,1,1,2,1,1,0,1,1,2,1,1,0,1,2,1,1,0,1,2,0,1,1],
[0,0,0,1,0,1,0,0,0,1,0,0,0,2,1,0,0,1,0,0,0,0,2,0,0,1,0,0,0,0,2,0,0,0,1,0,0,0,0,1,0,0,0,0,1,0,0,1,2,0,1,0,2,1,0,1,0,1,0,0],
[0,0,0,0,0,0,0,1,0,0,0,0,0,0,1,0,0,0,0,1,0,0,0,0,0,0,0,1,0,0,0,0,0,0,0,0,1,0,0,0,1,2,0,0,0,0,0,1,0,0,1,1,0,0,1,0,0,0,1,0],
[0,0,0,0,0,0,0,0,0,0,0,0,1,0,0,0,0,0,0,0,0,0,0,0,0,2,0,0,0,0,0,0,0,0,0,0,1,0,0,0,0,0,0,1,0,0,0,0,0,0,0,0,0,1,0,0,0,2,0,1],
[1,1,0,1,2,1,2,1,2,1,1,0,1,1,1,3,1,1,2,1,1,3,1,1,2,1,1,2,1,3,1,1,2,3,1,2,1,3,2,1,3,2,1,1,3,1,2,1,1,0,1,3,2,4,4,2,4,1,5,3],
[2,2,2,2,3,2,2,2,2,2,2,2,1,2,2,2,2,2,2,2,2,2,1,2,2,2,2,2,1,2,1,1,2,1,2,1,1,2,1,1,2,1,1,1,2,1,1,1,1,1,1,1,1,0,1,1,0,0,0,0],
[1,2,2,1,2,2,1,2,2,2,1,2,2,1,2,2,2,2,1,2,2,2,2,1,2,2,2,2,2,2,2,2,2,2,2,2,2,2,2,2,2,2,2,2,2,2,2,1,1,2,2,2,2,2,3,2,2,3,2,3],
[4,4,3,4,5,4,3,4,4,5,3,4,5,4,4,4,3,4,5,4,3,4,5,4,5,4,3,4,4,5,4,3,4,4,3,5,4,4,3,4,5,3,4,4,3,5,4,4,3,4,5,4,4,5,6,5,4,6,5,5],
[4,5,4,4,3,4,4,3,3,4,4,3,3,3,4,3,3,4,3,3,3,3,4,3,3,3,2,3,3,3,3,3,2,3,3,2,3,3,2,3,3,2,3,2,3,2,2,3,2,3,2,2,1,2,2,3,1,2,0,1],
[4,4,4,4,4,4,4,4,4,4,4,4,4,4,4,4,4,4,4,3,4,4,3,4,3,3,4,3,3,3,3,3,4,3,3,3,3,3,3,3,3,3,3,3,3,3,3,3,3,3,3,3,3,3,3,3,3,3,3,3],
[3,3,2,3,3,2,3,3,2,2,3,2,2,3,2,3,2,2,3,2,3,2,3,3,2,3,3,2,3,3,2,3,4,3,2,3,3,4,3,2,3,4,3,3,2,4,3,3,2,3,3,4,3,2,3,4,3,1,3,2],
[5,4,5,3,5,4,6,4,5,3,6,5,4,5,3,5,6,4,5,3,5,4,6,4,5,3,5,4,5,4,3,5,6,4,5,3,5,4,5,6,3,5,4,6,5,4,5,6,5,7,8,7,8,9,8,7,8,9,10,9],
[6,6,7,6,6,7,6,6,6,7,6,6,6,6,7,6,6,6,6,6,6,6,6,5,6,6,6,6,5,6,6,5,6,6,5,6,5,6,5,5,6,5,5,6,5,5,5,4,4,5,4,6,5,5,4,4,4,4,4,4],
[7,8,8,7,8,8,8,7,8,7,7,8,7,6,7,6,7,5,7,6,6,5,6,7,5,6,4,7,5,6,6,5,7,6,4,6,5,8,5,4,6,7,5,4,6,5,3,5,4,3,5,4,3,4,3,5,2,4,3,3]
];
const heatGenesJ=["SHANK2","NPY2R","CCR2","KMO","OXTR","DRD2","TSHZ3","NLGN2","ADORA1","GRIK3","ATAD1","GRIK2","EGFR","TNR"];
const heatRowsJ=[
[5,4,4,3,3,4,3,3,3,3,2,3,3,2,3,2,3,2,2,3,2,2,3,2,2,3,2,2,2,3,2,2,2,2,1,2,2,2,1,2,2,1,2,2,1,2,1,1,2,1,1,2,1,1,1,2,1,1,1,0],
[0,0,0,0,1,0,0,0,0,1,0,0,0,0,0,0,0,0,1,0,0,0,0,0,0,0,0,0,0,0,0,0,0,0,1,0,0,0,0,0,0,0,0,0,1,0,0,0,0,0,0,1,0,0,0,0,0,0,1,0],
[0,0,0,0,0,0,1,0,0,0,0,0,0,0,0,1,0,0,0,0,0,0,0,0,0,0,0,1,0,0,0,0,0,0,0,0,0,0,0,0,0,0,1,0,0,0,0,0,0,0,0,0,0,0,1,0,0,0,1,0],
[0,0,0,0,0,0,0,0,0,1,0,0,0,0,0,0,0,0,0,0,0,1,0,0,0,0,0,0,0,0,0,0,0,0,0,0,0,0,1,0,0,0,0,0,0,0,0,0,0,0,0,1,0,0,0,0,0,0,1,1],
[2,3,1,2,1,3,2,1,2,3,2,1,2,3,2,1,2,2,3,2,1,2,3,2,2,1,3,2,2,1,2,3,2,1,2,2,3,1,2,3,2,1,2,2,3,2,2,1,3,2,2,3,2,1,2,3,4,3,2,4],
[0,1,0,1,1,0,1,1,0,1,0,1,1,1,0,1,1,2,1,0,1,1,2,0,1,1,1,2,1,1,1,2,1,1,2,1,2,1,0,1,1,2,1,1,2,1,0,1,1,2,1,2,1,0,1,1,2,0,2,1],
[1,2,2,1,2,1,2,1,2,2,1,1,2,1,2,1,1,2,1,2,1,1,2,1,2,1,1,2,1,1,2,1,1,2,1,1,2,1,1,2,1,1,1,2,1,1,2,1,1,1,2,1,2,1,1,2,1,1,2,1],
[6,5,6,6,7,6,6,7,6,6,6,7,6,6,7,6,7,6,6,7,6,6,7,6,6,6,7,6,6,6,5,6,6,6,7,6,6,5,6,6,6,5,5,6,5,6,5,5,6,5,5,5,4,5,5,4,5,4,4,5],
[3,4,3,3,4,3,4,3,2,3,4,3,3,4,3,4,2,3,4,3,3,4,3,4,3,3,4,3,4,3,3,4,3,4,4,3,4,3,4,4,3,4,3,4,4,4,3,4,4,3,4,4,4,5,4,4,5,5,4,5],
[3,2,3,3,2,3,2,3,3,2,3,3,2,3,3,2,3,3,2,2,3,2,2,3,2,3,2,3,2,3,2,1,3,2,2,1,3,2,1,2,3,2,1,2,3,1,2,2,1,3,2,1,2,3,1,2,2,3,3,2],
[2,2,4,4,4,4,4,5,4,4,4,4,4,4,4,4,4,3,4,4,3,4,4,3,4,3,3,4,3,3,3,3,3,3,4,3,3,3,3,3,3,3,3,3,3,3,3,3,3,3,3,3,3,3,3,3,3,3,3,2],
[5,4,5,4,4,3,4,4,3,4,3,4,3,3,4,3,3,4,3,3,3,2,3,3,3,2,3,3,3,2,3,2,3,3,2,2,3,2,2,3,2,2,3,2,2,2,1,2,2,1,2,2,1,2,1,2,1,1,0,1],
[5,5,6,4,5,7,5,4,6,5,4,8,5,4,5,6,4,5,7,4,5,4,6,5,4,3,5,4,6,4,3,5,4,3,4,5,3,4,5,3,6,4,3,5,4,8,3,4,6,3,5,4,7,4,5,8,6,8,7,5],
[9,8,8,9,8,7,8,8,7,8,6,7,8,6,7,5,6,7,5,4,7,5,4,6,5,4,5,6,4,3,5,4,3,5,4,3,2,4,3,5,3,2,4,3,2,3,4,2,3,2,1,3,2,3,1,2,1,0,1,1]
];

/* ---------- Helpers ---------- */
const NS="http://www.w3.org/2000/svg";
const TEAL="#40e0d0", RED="#f00";
function byId(id){return document.getElementById(id);}
function add(parent,tag,attrs,name){
  const el=document.createElementNS(NS,tag);
  for(const k in attrs){el.setAttribute(k,attrs[k]);}
  
  
  parent.appendChild(el);
  return el;
}
function scale(d0,p0,d1,p1){return v=>p0+(v-d0)*(p1-p0)/(d1-d0);}
function seg(p,x1,y1,x2,y2,stroke,w,name,extra){
  return add(p,'line',Object.assign({x1,y1,x2,y2,stroke,'stroke-width':w},extra||{}),name);
}
function txt(p,s,x,y,size,opt,name){
  opt=opt||{};
  const a={x,y,'font-size':size,fill:opt.fill||'#333','text-anchor':opt.anchor||'middle','dominant-baseline':'central'};
  if(opt.weight){a['font-weight']=opt.weight;}
  if(opt.rotate){a.transform='rotate('+opt.rotate+' '+x+' '+y+')';}
  const el=add(p,'text',a,name);
  el.textContent=s;
  return el;
}
function box(p,x0,y0,x1,y1,stroke,w,name){
  return add(p,'rect',{x:x0,y:y0,width:x1-x0,height:y1-y0,fill:'none',stroke,'stroke-width':w},name);
}
function xAxis(p,ticks,labels,x,axisY,dir,tickLen,labelY,size,color,name){
  seg(p,x(ticks[0]),axisY,x(ticks[ticks.length-1]),axisY,color,1.2,name+'-line');
  ticks.forEach((t,i)=>{
    seg(p,x(t),axisY,x(t),axisY+dir*tickLen,color,1.2,name+'-tick');
    txt(p,labels[i],x(t),labelY,size,{fill:color==='#888'?'#777':'#222'},name+'-label');
  });
}
function yAxis(p,ticks,labels,y,axisX,tickLen,labelX,size,color,name){
  seg(p,axisX,y(ticks[0]),axisX,y(ticks[ticks.length-1]),color,1.2,name+'-line');
  ticks.forEach((t,i)=>{
    seg(p,axisX,y(t),axisX-tickLen,y(t),color,1.2,name+'-tick');
    if(labels[i]!==""){txt(p,labels[i],labelX,y(t),size,{rotate:-90,fill:color==='#888'?'#777':'#222'},name+'-label');}
  });
}
function polyline(p,pts,x,y,stroke,w,name,extra){
  const d=pts.map(q=>x(q[0]).toFixed(1)+','+y(q[1]).toFixed(1)).join(' ');
  return add(p,'polyline',Object.assign({points:d,fill:'none',stroke,'stroke-width':w,'stroke-linejoin':'round','stroke-linecap':'round'},extra||{}),name);
}
function dots(p,pts,x,y,fill,rx,ry,name){
  pts.forEach(q=>{
    add(p,'ellipse',{cx:x(q[0]).toFixed(1),cy:y(q[1]).toFixed(1),rx,ry,fill},name);
  });
}
function curveAt(curve,t){
  let s=curve[0][1];
  for(let i=1;i<curve.length;i++){
    if(curve[i][0]<=t){s=curve[i][1];}
    else{
      const a=curve[i-1],b=curve[i];
      if(b[0]>a[0]){s=a[1]+(b[1]-a[1])*(t-a[0])/(b[0]-a[0]);}
      break;
    }
  }
  return s;
}

/* ---------- Panel A ---------- */
(function(){
  const g=byId('panel-a');
  const xHR=v=>204.5+25.9*Math.log2(v);
  const rowY=i=>64.2+15.4*i;
  seg(g,xHR(1),58,xHR(1),657,'#cfcfcf',1.5,'forest-reference-line');
  forestGenes.forEach((name,i)=>{
    txt(g,name,30,rowY(i)+.5,20,{anchor:'start',fill:forestSignificant[i]?'#f00':'#111'},'forest-gene-label');
    seg(g,xHR(forestLow[i]),rowY(i),xHR(forestHigh[i]),rowY(i),'#00008b',2.2,'forest-ci-'+name);
    add(g,'rect',{x:xHR(forestHR[i])-3.8,y:rowY(i)-3.6,width:7.6,height:7.2,fill:'#0f3'},'forest-marker-'+name);
  });
  xAxis(g,forestTickValues,forestTickLabels,xHR,657,1,6,675,11,'#222','forest-x-axis');
})();

/* ---------- Panel B ---------- */
(function(){
  const g=byId('panel-b');
  const x=scale(-7,526.8,-3,804.3), y=scale(0,272.7,.8,81);
  [[pathLightBlue,'#7cc0e8',1.4,'light-blue'],[pathGreenLower,'#9bdb8c',1.4,'green-lower'],[pathCyanSmall,'#5fd7d8',1.4,'cyan-small'],[pathMagenta,'#cc66cc',1.6,'magenta'],[pathBlue,'#3a9ad8',1.4,'blue'],[pathBlackLower,'#444',1.4,'black-lower'],[pathBlackUpper,'#444',1.4,'black-upper'],[pathCyanUpper,'#45d8d0',1.4,'cyan-upper'],[pathCyanLower,'#45d8d0',1.4,'cyan-lower'],[pathPink,'#c8558a',1.4,'pink'],[pathGreen,'#7fc65f',1.4,'green'],[pathRedZero,'#d44',1.2,'red-zero'],[pathBlackZero,'#222',1.4,'black-zero']].forEach(s=>{
    polyline(g,s[0],x,y,s[1],s[2],'coefficient-path-'+s[3]);
  });
  box(g,517.3,36.7,859.2,343.7,'#777',1.4,'lasso-plot-frame');
  xAxis(g,lassoLambdaTicks,lassoLambdaTicks.map(v=>String(v).replace('-','−')),x,343.7,1,5,362,10.5,'#555','lasso-x-axis');
  xAxis(g,lassoLambdaTicks,lassoTopCounts,x,36.7,-1,4,19,10,'#555','lasso-top-axis');
  yAxis(g,lassoCoefTicks,lassoCoefTicks.map(v=>v.toFixed(1).replace('-','−')),y,517.3,5,499,10.5,'#555','lasso-y-axis');
})();

/* ---------- Panel C ---------- */
(function(){
  const g=byId('panel-c');
  const x=scale(-7,961.8,-3,1240.4), y=scale(10.4,296.7,11.2,50);
  devLambda.forEach((l,i)=>{
    const px=x(l);
    seg(g,px,y(devLower[i]),px,y(devUpper[i]),'#c8c8c8',1.4,'deviance-error-bar');
    seg(g,px-2.2,y(devUpper[i]),px+2.2,y(devUpper[i]),'#b8b8b8',1.3,'deviance-error-cap-upper');
    seg(g,px-2.2,y(devLower[i]),px+2.2,y(devLower[i]),'#b8b8b8',1.3,'deviance-error-cap-lower');
  });
  dots(g,devLambda.map((l,i)=>[l,devMean[i]]),x,y,'#f00',2.3,2.3,'deviance-point');
  devRefLines.forEach(v=>{
    seg(g,x(v),36.7,x(v),343.7,'#333',1,'lambda-reference-line',{'stroke-dasharray':'3 2'});
  });
  box(g,952.8,36.7,1294.7,343.7,'#777',1.4,'deviance-plot-frame');
  xAxis(g,devTickX,devTickX.map(v=>String(v).replace('-','−')),x,343.7,1,5,362,10.5,'#555','deviance-x-axis');
  yAxis(g,devTickY,devTickYLabels,y,952.8,5,935,10.5,'#555','deviance-y-axis');
  const top=i=>965.7+19.34*i;
  devTopCounts.forEach((s,i)=>{
    txt(g,s,top(i),19,10,{fill:'#222'},'deviance-top-count');
  });
})();

/* ---------- Panel D ---------- */
(function(){
  const g=byId('panel-d');
  const cx=1540.7, cy=191.3;
  const r=v=>70.7+v*68.3;
  const pt=(i,v)=>{const a=i*2*Math.PI/radarGenes.length;return [cx+r(v)*Math.sin(a),cy-r(v)*Math.cos(a)];};
  radarRings.forEach(v=>{
    const d=radarGenes.map((_,i)=>pt(i,v).map(n=>n.toFixed(1)).join(',')).join(' ');
    add(g,'polygon',{points:d,fill:'none',stroke:TEAL,'stroke-width':1.3},'radar-ring');
  });
  radarGenes.forEach((name,i)=>{
    const a=pt(i,radarRings[0]), b=pt(i,radarRings[radarRings.length-1]);
    seg(g,a[0],a[1],b[0],b[1],TEAL,1.3,'radar-spoke');
    const t=i*2*Math.PI/radarGenes.length;
    txt(g,name,cx+142*Math.sin(t),cy-142*Math.cos(t),8.2,{fill:'#222'},'radar-gene-label');
  });
  radarRings.forEach((v,i)=>{
    txt(g,radarRingLabels[i],cx-5.5,cy-r(v),10.5,{fill:'#00f'},'radar-ring-label');
  });
  const d=radarValues.map((v,i)=>pt(i,v).map(n=>n.toFixed(1)).join(',')).join(' ');
  add(g,'polygon',{points:d,fill:'none',stroke:RED,'stroke-width':1.8},'radar-series-line');
  radarValues.forEach((v,i)=>{
    const q=pt(i,v);
    add(g,'circle',{cx:q[0],cy:q[1],r:2.4,fill:RED},'radar-point-'+radarGenes[i]);
  });
})();

/* ---------- Panels E, G ---------- */
function pcaPanel(id,left,right,xA,yA,ticksX,ticksY,teal,red,labelX,labelY,legendX,prefix){
  const g=byId(id);
  dots(g,teal,xA,yA,TEAL,2.7,2.7,prefix+'-high-point');
  dots(g,red,xA,yA,RED,2.7,2.7,prefix+'-low-point');
  box(g,left,462.3,right,672,'#888',1.2,prefix+'-plot-frame');
  xAxis(g,ticksX,ticksX.map(v=>String(v).replace('-','−')),xA,672,1,3,labelX,9,'#888',prefix+'-x-axis');
  yAxis(g,ticksY,ticksY.map(String),yA,left,3,labelY,9,'#888',prefix+'-y-axis');
  add(g,'circle',{cx:legendX,cy:566.7,r:2.7,fill:TEAL},prefix+'-legend-high-dot');
  add(g,'circle',{cx:legendX,cy:581,r:2.7,fill:RED},prefix+'-legend-low-dot');
}
pcaPanel('panel-e',411.7,633.2,scale(0,542.3,5,611.8),scale(0,616,5,537.7),ePcaTicksX,ePcaTicksY,ePcaHighRisk,ePcaLowRisk,679,406,653.3,'tcga-pca');
pcaPanel('panel-g',1110.9,1326.8,scale(0,1212.2,10,1293.8),scale(0,645,15,484),gPcaTicksX,gPcaTicksY,gPcaHighRisk,gPcaLowRisk,679,1103,1348,'cgga-pca');

/* ---------- Panels F, H ---------- */
function survivalPanel(id,left,right,x,ticksX,high,low,highC,lowC,labelYX,legLeft,lineX0,textX,prefix){
  const g=byId(id);
  const y=scale(0,675.3,1,452.7);
  polyline(g,low,x,y,TEAL,1.7,prefix+'-low-risk-curve');
  polyline(g,high,x,y,RED,1.7,prefix+'-high-risk-curve');
  [[lowC,low,TEAL,'low'],[highC,high,RED,'high']].forEach(s=>{
    s[0].forEach(t=>{
      const px=x(t), py=y(curveAt(s[1],t));
      seg(g,px,py-4.5,px,py+4.5,s[2],1,prefix+'-'+s[3]+'-censor-mark');
      seg(g,px-4,py,px+4,py,s[2],1,prefix+'-'+s[3]+'-censor-mark');
    });
  });
  box(g,left,443.7,right,684,'#444',1.5,prefix+'-plot-frame');
  xAxis(g,ticksX,ticksX.map(String),x,684,1,6,707,13.5,'#444',prefix+'-x-axis');
  yAxis(g,survTicksY,survTickYLabels,y,left,6,labelYX,13.5,'#444',prefix+'-y-axis');
  add(g,'rect',{x:legLeft,y:443.7,width:right-legLeft,height:45.3,fill:'#fff',stroke:'#222','stroke-width':1.5},prefix+'-legend-box');
  seg(g,lineX0,459,lineX0+24,459,RED,2,prefix+'-legend-high-line');
  seg(g,lineX0,474,lineX0+24,474,TEAL,2,prefix+'-legend-low-line');
  txt(g,'high risk',textX,459,13,{anchor:'start',fill:'#222'},prefix+'-legend-high-text');
  txt(g,'low risk',textX,474,13,{anchor:'start',fill:'#222'},prefix+'-legend-low-text');
}
survivalPanel('panel-f',743.8,1067.5,scale(0,755.8,15,1015.3),fTicksX,fHighCurve,fLowCurve,fHighCensor,fLowCensor,721,968.5,980,1014.9,'tcga-survival');
survivalPanel('panel-h',1444.5,1768.4,scale(0,1455.9,14,1760.9),hTicksX,hHighCurve,hLowCurve,hHighCensor,hLowCensor,1422,1669.2,1680,1714.6,'cgga-survival');

/* ---------- Panels I, J ---------- */
function legendDots(g,x,y1,y2,c1,c2,name){
  add(g,'ellipse',{cx:x,cy:y1,rx:4.2,ry:4.5,fill:c1},name+'-dot-1');
  add(g,'ellipse',{cx:x,cy:y2,rx:4.2,ry:4.5,fill:c2},name+'-dot-2');
}
(function(){
  const g=byId('panel-i');
  const x=scale(0,116.1,400,721.3), yR=scale(0,951.7,15,837.3), yT=scale(0,1126,15,1015);
  polyline(g,iRiskLow,x,yR,TEAL,5,'tcga-low-risk-score-line');
  polyline(g,iRiskHigh,x,yR,RED,5,'tcga-high-risk-score-line');
  dots(g,iRiskHigh.slice(-10),x,yR,RED,2.6,2.6,'tcga-high-risk-score-point');
  dots(g,iRiskOutliers,x,yR,RED,2.6,2.6,'tcga-high-risk-outlier');
  seg(g,91,yR(iMedianScore),819.7,yR(iMedianScore),'#111',1.5,'tcga-median-risk-line',{'stroke-dasharray':'3 3'});
  seg(g,x(iMedianIndex),818.3,x(iMedianIndex),956,'#111',1.2,'tcga-cutoff-line',{'stroke-dasharray':'3 3'});
  box(g,91,818.3,819.7,956,'#333',1.5,'tcga-risk-frame');
  xAxis(g,iTicksX,iTicksX.map(String),x,956,1,9,982,13.5,'#333','tcga-risk-x-axis');
  yAxis(g,iTicksYRisk,iTicksYRisk.map(String),yR,91,7,65.8,13.5,'#333','tcga-risk-y-axis');
  legendDots(g,105.4,838.3,858.3,RED,TEAL,'tcga-risk-legend');

  dots(g,iAliveCarpet,x,yT,TEAL,4.3,4.3,'tcga-alive-point');
  dots(g,iAliveUpper,x,yT,TEAL,4.3,4.3,'tcga-alive-point');
  dots(g,iDead,x,yT,RED,4.3,4.3,'tcga-dead-point');
  seg(g,x(iMedianIndex),992.7,x(iMedianIndex),1130.7,'#111',1.2,'tcga-cutoff-line-lower',{'stroke-dasharray':'3 3'});
  box(g,91,992.7,819.7,1130.7,'#333',1.5,'tcga-survival-frame');
  xAxis(g,iTicksX,iTicksX.map(String),x,1130.7,1,9,1156.7,13.5,'#333','tcga-time-x-axis');
  yAxis(g,iTicksYTime,iTicksYTime.map(String),yT,91,7,65.8,13.5,'#333','tcga-time-y-axis');
  legendDots(g,105.4,1012.7,1032.7,RED,TEAL,'tcga-status-legend');
})();
(function(){
  const g=byId('panel-j');
  const x=scale(0,1023.5,600,1708), yR=scale(0,896.7,10,846.7), yT=scale(0,1126.7,12,1014.3);
  polyline(g,jRiskLow,x,yR,TEAL,5,'cgga-low-risk-score-line');
  dots(g,jRiskStart,x,yR,TEAL,2.5,2.5,'cgga-low-risk-score-point');
  polyline(g,jRiskHigh,x,yR,RED,5,'cgga-high-risk-score-line');
  dots(g,jRiskOutliers,x,yR,RED,2.6,2.6,'cgga-high-risk-outlier');
  seg(g,997.7,yR(jMedianScore),1725,yR(jMedianScore),'#111',1.5,'cgga-median-risk-line',{'stroke-dasharray':'3 3'});
  seg(g,x(jMedianIndex),818.3,x(jMedianIndex),956,'#111',1,'cgga-cutoff-line',{'stroke-dasharray':'3 3'});
  box(g,997.7,818.3,1725,956,'#333',1.5,'cgga-risk-frame');
  xAxis(g,jTicksX,jTicksX.map(String),x,956,1,9,982,13.5,'#333','cgga-risk-x-axis');
  yAxis(g,jTicksYRisk,jTickLabelsRisk,yR,997.7,7,973,13.5,'#333','cgga-risk-y-axis');
  legendDots(g,1012.5,838.3,858.3,RED,TEAL,'cgga-risk-legend');

  dots(g,jAlive,x,yT,TEAL,3.8,4.2,'cgga-alive-point');
  dots(g,jDead,x,yT,RED,3.8,4.2,'cgga-dead-point');
  seg(g,x(jMedianIndex),992.7,x(jMedianIndex),1130.7,'#111',1,'cgga-cutoff-line-lower',{'stroke-dasharray':'3 3'});
  box(g,997.7,992.7,1725,1130.7,'#333',1.5,'cgga-survival-frame');
  xAxis(g,jTicksX,jTicksX.map(String),x,1130.7,1,9,1156.7,13.5,'#333','cgga-time-x-axis');
  yAxis(g,jTicksYTime,jTickLabelsTime,yT,997.7,7,973,13.5,'#333','cgga-time-y-axis');
  legendDots(g,1012.5,1012.7,1032.7,RED,TEAL,'cgga-status-legend');
})();

/* ---------- Heatmaps ---------- */
function heatColor(v){
  const t=Math.max(0,Math.min(10,v));
  if(t<=5){const k=1-t/5;return 'rgb('+Math.round(64*k)+','+Math.round(224*k)+','+Math.round(208*k)+')';}
  return 'rgb('+Math.round(255*(t-5)/5)+',0,0)';
}
function dendroLink(g,x,y1,x1,y2,x2){
  add(g,'path',{d:'M'+x1+' '+y1+'H'+x+'V'+y2+'H'+x2,fill:'none',stroke:'#555','stroke-width':1.1},'dendrogram-branch');
  return (y1+y2)/2;
}
function heatmap(id,left,right,split,genes,rows,labelX,barLeft,barRight,gradId,clipId,cbLabels,cbLabelX,swatchX,prefix,tree){
  const g=byId(id);
  const top=1227.7, rowH=18.83;
  add(g,'rect',{x:left,y:1213,width:split-left,height:11.7,fill:'#fb8b83'},prefix+'-annotation-low');
  add(g,'rect',{x:split,y:1213,width:right-split,height:11.7,fill:'#00d8e4'},prefix+'-annotation-high');
  const clip=add(g,'g',{'clip-path':'url(#'+clipId+')'},prefix+'-matrix-clip');
  const matrix=add(clip,'g',{filter:'url(#heat-soften)'},prefix+'-matrix');
  rows.forEach((row,r)=>{
    const w=(right-left)/row.length;
    row.forEach((v,c)=>{
      const pad=(c===0||c===row.length-1)?10:0;
      add(matrix,'rect',{x:(left+c*w-(c===0?pad:0)).toFixed(1),y:(top+r*rowH).toFixed(1),width:(w+.4+pad).toFixed(1),height:rowH+.3,fill:heatColor(v),'shape-rendering':'crispEdges'},prefix+'-cell');
    });
    txt(g,genes[r],labelX,top+r*rowH+rowH/2,12.5,{anchor:'start',fill:'#222'},prefix+'-gene-label');
  });
  add(g,'rect',{x:barLeft,y:1211.7,width:barRight-barLeft,height:173.3,fill:'url(#'+gradId+')'},prefix+'-colorbar');
  cbLabels.forEach(c=>{
    txt(g,c[0],cbLabelX,c[1],12,{anchor:'start',fill:'#222'},prefix+'-colorbar-label');
  });
  add(g,'rect',{x:swatchX,y:1224.3,width:17.5,height:16.7,fill:'#00d8e4'},prefix+'-legend-high-swatch');
  add(g,'rect',{x:swatchX,y:1241,width:17.5,height:16.7,fill:'#fb8b83'},prefix+'-legend-low-swatch');
  tree(g);
}
const cy=i=>1227.7+18.83*(i+.5);
heatmap('heat-i',75.7,707.4,391.3,heatGenesI,heatRowsI,710.8,771.3,782.5,'heat-grad-i','heat-clip-i',[["10",1215],["8",1249],["6",1283],["4",1317.3],["2",1351.3],["0",1385.3]],787,803.8,'tcga-heat',function(g){
  const L=75.7;
  const a=dendroLink(g,72.9,cy(2),L,cy(3),L);
  const b=dendroLink(g,68.4,cy(1),L,a,72.9);
  const c=dendroLink(g,66.1,cy(0),L,b,68.4);
  const d=dendroLink(g,65,cy(5),L,cy(6),L);
  const e=dendroLink(g,59.4,cy(4),L,d,65);
  const f=dendroLink(g,56,c,66.1,e,59.4);
  const h=dendroLink(g,65.6,cy(9),L,cy(10),L);
  const i=dendroLink(g,61.1,cy(8),L,h,65.6);
  const j=dendroLink(g,57.7,cy(7),L,i,61.1);
  const k=dendroLink(g,63.3,cy(12),L,cy(13),L);
  const m=dendroLink(g,53.8,cy(11),L,k,63.3);
  const n=dendroLink(g,47.1,j,57.7,m,53.8);
  dendroLink(g,15.7,f,56,n,47.1);
});
heatmap('heat-j',977.8,1609.4,1293.3,heatGenesJ,heatRowsJ,1612.8,1672.8,1685,'heat-grad-j','heat-clip-j',[["10",1229.3],["8",1260.7],["6",1292],["4",1323.3],["2",1354]],1688.9,1706,'cgga-heat',function(g){
  const L=977.8;
  const a=dendroLink(g,973.3,cy(2),L,cy(3),L);
  const b=dendroLink(g,972.2,cy(1),L,a,973.3);
  const c=dendroLink(g,966.1,cy(5),L,cy(6),L);
  const d=dendroLink(g,962.8,cy(4),L,c,966.1);
  const e=dendroLink(g,960,b,972.2,d,962.8);
  const f=dendroLink(g,952.8,cy(0),L,e,960);
  const h=dendroLink(g,965.6,cy(10),L,cy(11),L);
  const i=dendroLink(g,963.3,cy(9),L,h,965.6);
  const j=dendroLink(g,957.2,cy(8),L,i,963.3);
  const k=dendroLink(g,956.7,cy(12),L,cy(13),L);
  const m=dendroLink(g,953.9,j,957.2,k,956.7);
  const n=dendroLink(g,950.6,cy(7),L,m,953.9);
  dendroLink(g,917.8,f,952.8,n,950.6);
});
</script>
</body>
</html>
